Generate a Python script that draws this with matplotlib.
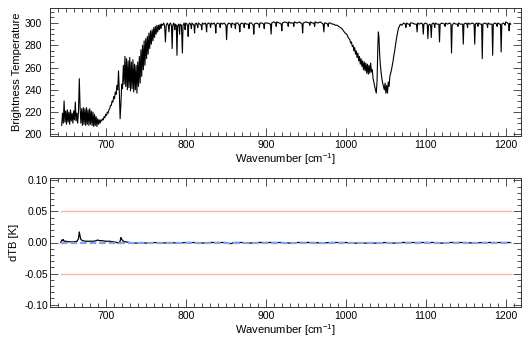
import matplotlib
matplotlib.use("Agg")
import matplotlib.pyplot as plt
from matplotlib.ticker import MultipleLocator, FormatStrFormatter
import numpy as np

plt.rcParams['font.family'] = ['Liberation Sans', 'DejaVu Sans']
plt.rcParams['mathtext.fontset'] = 'custom'
plt.rcParams['mathtext.rm'] = 'Liberation Sans'
plt.rcParams['mathtext.default'] = 'regular'
plt.rcParams['axes.unicode_minus'] = False

# ---- upper panel: brightness temperature spectrum ----
# dense part, 645..770 cm-1 in 1 cm-1 steps
wn_band = list(range(645, 771))
bt_band = [208, 219, 210, 230, 211, 221, 209, 222, 211, 220,
           209, 222, 212, 219, 210, 221, 213, 229, 212, 219,
           210, 221, 250, 224, 210, 223, 208, 224, 209, 223,
           208, 224, 209, 222, 208, 223, 209, 221, 208, 220,
           207, 218, 208, 216, 207, 214, 209, 213, 210, 213,
           212, 214, 213, 216, 215, 218, 217, 220, 219, 222,
           223, 226, 226, 230, 229, 234, 232, 238, 236, 244,
           240, 257, 238, 214, 228, 245, 241, 262, 245, 270,
           243, 268, 240, 266, 242, 269, 239, 265, 241, 267,
           238, 263, 240, 262, 237, 265, 243, 270, 246, 276,
           252, 280, 258, 284, 262, 286, 268, 288, 272, 291,
           277, 293, 281, 294, 284, 296, 287, 297, 290, 298,
           292, 298, 294, 299, 295, 299]

# window / ozone part, 771..1206 cm-1 (wavenumber, BT)
spec_rest = [
    (771, 298), (772.5, 300), (773.6, 297), (774.6, 283), (775.6, 298), (777, 300),
    (778.2, 298), (779, 292), (779.8, 299), (781, 300), (782.2, 297), (783, 277),
    (783.8, 298), (785, 300), (785.6, 298), (786.3, 294), (787, 299), (788.2, 298),
    (789, 271), (789.8, 297), (791, 299), (791.6, 297), (792.3, 290), (793, 299),
    (794.6, 298), (795.8, 273), (796.6, 298), (798, 300), (798.6, 298), (799.2, 294),
    (800, 300), (801.6, 299), (802.4, 297), (803, 288), (803.7, 299), (805, 300),
    (806.3, 298), (807, 295), (807.7, 300), (809, 299), (810.3, 298), (811, 291),
    (811.7, 299), (813, 300), (814.3, 298), (815, 296), (815.7, 300), (817.5, 299),
    (819.3, 298), (820, 294), (820.7, 300), (822.5, 299), (824.5, 300), (825.3, 298),
    (826, 292), (826.7, 299), (828.5, 300), (830.3, 299), (831, 296), (831.7, 300),
    (833.5, 299), (835.5, 300), (836.8, 298), (837.5, 291), (838.2, 299), (840, 300),
    (842.3, 299), (843, 296), (843.7, 300), (846, 299), (848, 300), (850.2, 298),
    (851, 285), (851.8, 298), (853.5, 300), (856.3, 299), (857, 296), (857.7, 300),
    (860, 299), (861.3, 299), (862, 295), (862.7, 300), (865, 300), (866.8, 298),
    (867.5, 292), (868.2, 299), (870, 300), (872.3, 299), (873, 296), (873.7, 300),
    (876, 299), (878.3, 299), (879, 295), (879.7, 300), (882, 300), (884.3, 298),
    (885, 290), (885.7, 299), (888, 300), (891.3, 299), (892, 296), (892.7, 300),
    (895, 300), (897.3, 299), (898, 295), (898.7, 300), (902, 300), (905.8, 299),
    (906.6, 290), (907.4, 300), (910, 301), (912.3, 300), (913, 297), (913.7, 301),
    (917, 300), (919.3, 299), (920, 293), (920.7, 300), (924, 301), (927.3, 300),
    (928, 297), (928.7, 301), (931, 300), (934.3, 300), (935, 297), (935.7, 301),
    (939, 300), (942, 301), (945.3, 299), (946, 291), (946.7, 300), (950, 301),
    (954.3, 300), (955, 298), (955.7, 301), (958, 300), (960.3, 300), (961, 297),
    (961.7, 301), (965, 300), (968, 301), (971.7, 299), (972.5, 292), (973.3, 300),
    (975, 300), (977.3, 299), (978, 297), (978.7, 300), (981, 300), (983, 299),
    (985, 299), (987, 298), (989, 298), (991, 297), (993, 296), (995, 295),
    (997, 293), (999, 291), (1001, 290), (1003, 287), (1005, 285), (1006, 282),
    (1007, 283), (1008, 279), (1009, 280), (1010, 275), (1011, 278), (1012, 272),
    (1013, 275), (1014, 269), (1015, 273), (1016, 266), (1017, 270), (1018, 263),
    (1019, 268), (1020, 261), (1021, 266), (1022, 258), (1023, 265), (1024, 257),
    (1025, 264), (1026, 255), (1027, 263), (1028, 254), (1029, 262), (1030, 255),
    (1031, 264), (1032, 256), (1033, 258), (1034, 250), (1035, 247), (1036, 243),
    (1037, 240), (1038, 237), (1039, 248), (1040, 280), (1040.6, 292), (1041.3, 288),
    (1042, 275), (1043, 263), (1044, 256), (1045, 250), (1046, 246), (1047, 243),
    (1048, 240), (1049, 246), (1050, 237), (1051, 244), (1052, 237), (1053, 247),
    (1054, 243), (1055, 252), (1056, 255), (1057, 258), (1058, 262), (1059, 266),
    (1060, 271), (1061, 275), (1062, 280), (1063, 285), (1064, 289), (1065, 293),
    (1066, 296), (1067, 297), (1068, 299), (1070, 298), (1072, 300), (1074.3, 299),
    (1075, 296), (1075.7, 300), (1078, 299), (1079.3, 299), (1080, 297), (1080.7, 300),
    (1083, 300), (1086, 299), (1088.2, 299), (1089, 292), (1089.8, 300), (1092, 299),
    (1094, 300), (1095.9, 299), (1096.7, 290), (1097.5, 299), (1099.5, 300), (1101.7, 299),
    (1102.5, 286), (1103.3, 298), (1105, 299), (1105.9, 298), (1106.7, 287), (1107.5, 299),
    (1109, 300), (1110.3, 299), (1111, 296), (1111.7, 300), (1114, 299), (1116.2, 299),
    (1117, 283), (1117.8, 299), (1120, 300), (1123.3, 299), (1124, 297), (1124.7, 300),
    (1127, 299), (1129.5, 300), (1131.2, 299), (1132, 273), (1132.8, 298), (1135, 300),
    (1137.5, 299), (1139.3, 299), (1140, 297), (1140.7, 300), (1143, 299), (1145.9, 299),
    (1146.7, 281), (1147.5, 299), (1149.5, 300), (1151.3, 299), (1152, 296), (1152.7, 300),
    (1155, 299), (1158, 300), (1160.2, 299), (1161, 281), (1161.8, 299), (1163.5, 300),
    (1164.3, 299), (1165, 297), (1165.7, 300), (1168, 299), (1169.6, 299), (1170.4, 268),
    (1171.2, 299), (1173.5, 300), (1176.3, 299), (1177, 296), (1177.7, 300), (1180, 299),
    (1182.6, 299), (1183.4, 271), (1184.2, 299), (1186.5, 300), (1188.3, 299), (1189, 297),
    (1189.7, 300), (1192, 299), (1193.2, 299), (1194, 274), (1194.8, 299), (1197, 300),
    (1198.3, 299), (1199, 298), (1199.7, 301), (1202, 300), (1203.3, 299), (1204, 293),
    (1204.7, 300), (1206, 299),
]

# ---- lower panel: dTB difference ----
wn_dtb = [644, 645, 646, 647, 648, 650, 655, 660, 664, 666, 667, 668, 669, 671,
          675, 680, 685, 688, 690, 692, 695, 700, 705, 710, 714, 716, 718, 719,
          720, 722, 725, 730, 735, 740, 745, 750, 760, 770, 780, 790, 800, 810,
          820, 830, 840, 850, 856, 860, 870, 880, 890, 900, 910, 920, 930, 940,
          950, 960, 970, 980, 990, 1000, 1010, 1020, 1030, 1040, 1050, 1060,
          1070, 1080, 1090, 1100, 1110, 1120, 1130, 1140, 1150, 1160, 1170,
          1180, 1190, 1200, 1206]
dtb = [0.000, 0.004, 0.003, 0.005, 0.002, 0.002, 0.001, 0.001, 0.002, 0.006,
       0.017, 0.010, 0.005, 0.003, 0.002, 0.002, 0.002, 0.003, 0.004, 0.003,
       0.003, 0.002, 0.002, 0.001, 0.000, -0.001, 0.002, 0.008, 0.005, 0.002,
       0.001, 0.000, -0.001, -0.001, 0.000, -0.001, 0.000, -0.001, 0.000, -0.001,
       0.000, 0.000, -0.001, 0.000, 0.000, 0.000, -0.002, 0.000, 0.000, -0.001,
       0.000, 0.000, 0.000, 0.000, -0.001, 0.000, 0.000, 0.000, -0.001, 0.000,
       0.000, 0.000, -0.001, -0.001, -0.001, -0.001, 0.000, -0.001, 0.000,
       0.000, 0.000, 0.000, 0.000, -0.001, 0.000, 0.000, 0.000, -0.001, 0.000,
       0.000, 0.000, 0.000, 0.000]
dtb_limits = [0.05, -0.05]
wn_range = [644, 1206]

wn_top = wn_band + [p[0] for p in spec_rest]
bt_top = bt_band + [p[1] for p in spec_rest]

fig = plt.figure(figsize=(5.28, 3.39), dpi=100)
ax1 = fig.add_axes([50/528, 1-136/339, 471/528, 128/339])
ax2 = fig.add_axes([50/528, 1-307/339, 471/528, 129/339])

ax1.plot(wn_top, bt_top, color='black', lw=0.8)
ax1.set_xlim(630.4, 1218.8)
ax1.set_ylim(198.5, 313.5)
ax1.set_ylabel('Brightness Temperature', fontsize=8)
ax1.set_xlabel('Wavenumber [cm$^{-1}$]', fontsize=8, labelpad=1)
ax1.yaxis.set_major_locator(MultipleLocator(20))
ax1.yaxis.set_minor_locator(MultipleLocator(5))

for lim in dtb_limits:
    ax2.plot(wn_range, [lim, lim], color='#ffb4a2', lw=1.0)
ax2.plot(wn_dtb, dtb, color='black', lw=0.9)
ax2.plot(wn_range, [0, 0], color='#7fa2f2', lw=1.6, dashes=(3, 1.3))
ax2.set_xlim(630.4, 1218.8)
ax2.set_ylim(-0.104, 0.104)
ax2.set_ylabel('dTB [K]', fontsize=8)
ax2.set_xlabel('Wavenumber [cm$^{-1}$]', fontsize=8, labelpad=1)
ax2.yaxis.set_major_locator(MultipleLocator(0.05))
ax2.yaxis.set_minor_locator(MultipleLocator(0.01))
ax2.yaxis.set_major_formatter(FormatStrFormatter('%.2f'))

for ax in (ax1, ax2):
    ax.xaxis.set_major_locator(MultipleLocator(100))
    ax.xaxis.set_minor_locator(MultipleLocator(10))
    ax.tick_params(which='both', direction='in', top=True, right=True,
                   labelsize=7.5, width=0.6, color='#333333')
    ax.tick_params(which='major', length=5.5)
    ax.tick_params(which='minor', length=2.8)
    ax.tick_params(axis='x', pad=3)
    for s in ax.spines.values():
        s.set_linewidth(0.7)
        s.set_color('#333333')
ax1.tick_params(axis='y', pad=6)
ax2.tick_params(axis='y', pad=1.5)
ax1.yaxis.set_label_coords(-0.059, 0.5)
ax2.yaxis.set_label_coords(-0.065, 0.5)

fig.savefig('out.png', dpi=100)
